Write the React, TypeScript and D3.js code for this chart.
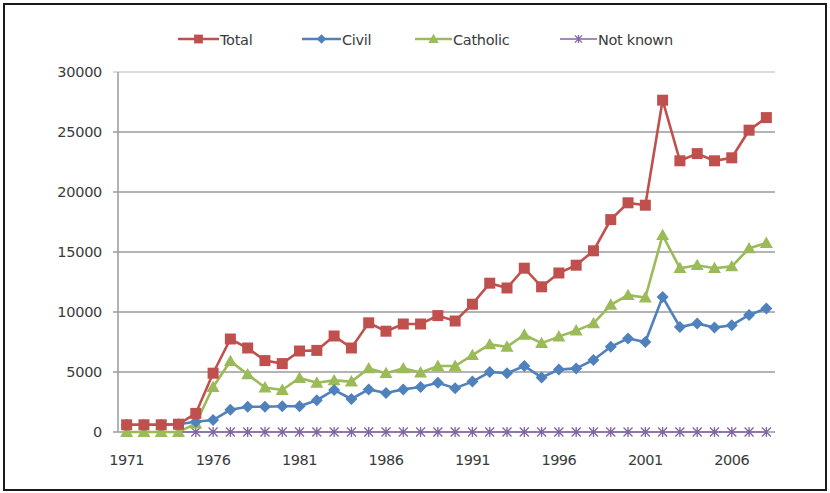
import React from "react";
import * as d3 from "d3";

const years: number[] = d3.range(1971, 2009);
const totalValues = [600, 600, 600, 650, 1550, 4900, 7750, 7000, 5950, 5700, 6750, 6800, 8000, 7000, 9100, 8400, 9000, 9000, 9700, 9250, 10650, 12400, 12000, 13650, 12100, 13250, 13900, 15100, 17700, 19100, 18900, 27650, 22600, 23200, 22600, 22850, 25150, 26200];
const civilValues = [600, 600, 600, 650, 850, 1000, 1850, 2100, 2100, 2150, 2150, 2650, 3500, 2750, 3550, 3250, 3550, 3750, 4100, 3650, 4200, 5000, 4900, 5500, 4550, 5200, 5300, 6000, 7100, 7800, 7500, 11250, 8750, 9050, 8700, 8900, 9750, 10300];
const catholicValues = [0, 0, 0, 0, 700, 3750, 5900, 4800, 3700, 3500, 4500, 4100, 4300, 4200, 5300, 4900, 5300, 4950, 5500, 5500, 6400, 7300, 7100, 8100, 7400, 7950, 8450, 9050, 10600, 11400, 11200, 16400, 13650, 13900, 13650, 13800, 15300, 15750];
const notKnownValues = years.map(() => 0);
const yTicks = [0, 5000, 10000, 15000, 20000, 25000, 30000];
const xTickYears = [1971, 1976, 1981, 1986, 1991, 1996, 2001, 2006];

const seriesNames = ["Total", "Civil", "Catholic", "Not known"];
const seriesColors = ["#C0504D", "#4F81BD", "#9BBB59", "#8064A2"];
const seriesData = [totalValues, civilValues, catholicValues, notKnownValues];
const markerTypes = ["square", "diamond", "triangle", "star"];

const FONT = "'DejaVu Sans', Verdana, sans-serif";
const TXT = "#3a3a3a";

function Marker({ type, x, y, color, s = 1 }: { type: string; x: number; y: number; color: string; s?: number }) {
  if (type === "square") {
    const h = 5.5 * s;
    return <rect x={x - h} y={y - h} width={2 * h} height={2 * h} fill={color} />;
  }
  if (type === "diamond") {
    const h = 6 * s;
    return <path d={`M${x},${y - h}L${x + h},${y}L${x},${y + h}L${x - h},${y}Z`} fill={color} />;
  }
  if (type === "triangle") {
    const h = 6.5 * s;
    return <path d={`M${x},${y - h}L${x + h},${y + h * 0.75}L${x - h},${y + h * 0.75}Z`} fill={color} />;
  }
  const h = 4.5 * s;
  return (
    <path
      d={`M${x - h},${y - h}L${x + h},${y + h}M${x - h},${y + h}L${x + h},${y - h}M${x},${y - h - 0.5}L${x},${y + h + 0.5}`}
      stroke={color}
      strokeWidth={1.3}
      fill="none"
    />
  );
}

export default function App() {
  const W = 830, H = 493;
  const x = d3.scaleBand<number>().domain(years).range([118, 775]).paddingInner(0).paddingOuter(0);
  const cx = (yr: number) => (x(yr) as number) + x.bandwidth() / 2;
  const y = d3.scaleLinear().domain([0, 30000]).range([432, 72]);
  const line = d3.line<number>().x((_, i) => cx(years[i])).y((v) => y(v));

  const legendPos = [
    { x0: 178, x1: 219 },
    { x0: 302, x1: 341 },
    { x0: 415, x1: 452 },
    { x0: 560, x1: 597 },
  ];

  return (
    <svg width={W} height={H} style={{ position: "absolute", left: 0, top: 0, background: "#fff" }}>
      <rect x={0} y={0} width={W} height={H} fill="#fff" />
      <rect x={4} y={4} width={822} height={486} fill="none" stroke="#1a1a1a" strokeWidth={2} />
      {yTicks.map((t) => (
        <line key={t} x1={113} x2={775} y1={y(t)} y2={y(t)} stroke={t === 30000 ? "#cfcfcf" : "#9a9a9a"} strokeWidth={1.4} />
      ))}
      <line x1={118} x2={118} y1={72} y2={432} stroke="#a0a0a0" strokeWidth={1.6} />
      {yTicks.map((t) => (
        <text key={t} x={102} y={y(t) + 5} textAnchor="end" fontFamily={FONT} fontSize={14.5} fill={TXT} letterSpacing={-0.3}>
          {t}
        </text>
      ))}
      {xTickYears.map((yr) => (
        <text key={yr} x={cx(yr)} y={465} textAnchor="middle" fontFamily={FONT} fontSize={14.5} fill={TXT} letterSpacing={-0.5}>
          {yr}
        </text>
      ))}
      {[3, 2, 1, 0].map((si) => (
        <g key={si}>
          <path d={line(seriesData[si]) || ""} fill="none" stroke={seriesColors[si]} strokeWidth={si === 3 ? 1.5 : 2.6} />
          {seriesData[si].map((v, i) => (
            <Marker key={i} type={markerTypes[si]} x={cx(years[i])} y={y(v)} color={seriesColors[si]} />
          ))}
        </g>
      ))}
      {seriesNames.map((n, i) => {
        const p = legendPos[i];
        const mx = (p.x0 + p.x1) / 2;
        return (
          <g key={n}>
            <line x1={p.x0} x2={p.x1} y1={39} y2={39} stroke={seriesColors[i]} strokeWidth={i === 3 ? 1.5 : 2.6} />
            <Marker type={markerTypes[i]} x={mx} y={39} color={seriesColors[i]} s={0.8} />
            <text x={p.x1 + 1} y={45} fontFamily={FONT} fontSize={14.5} fill={TXT} letterSpacing={-0.3}>
              {n}
            </text>
          </g>
        );
      })}
    </svg>
  );
}
